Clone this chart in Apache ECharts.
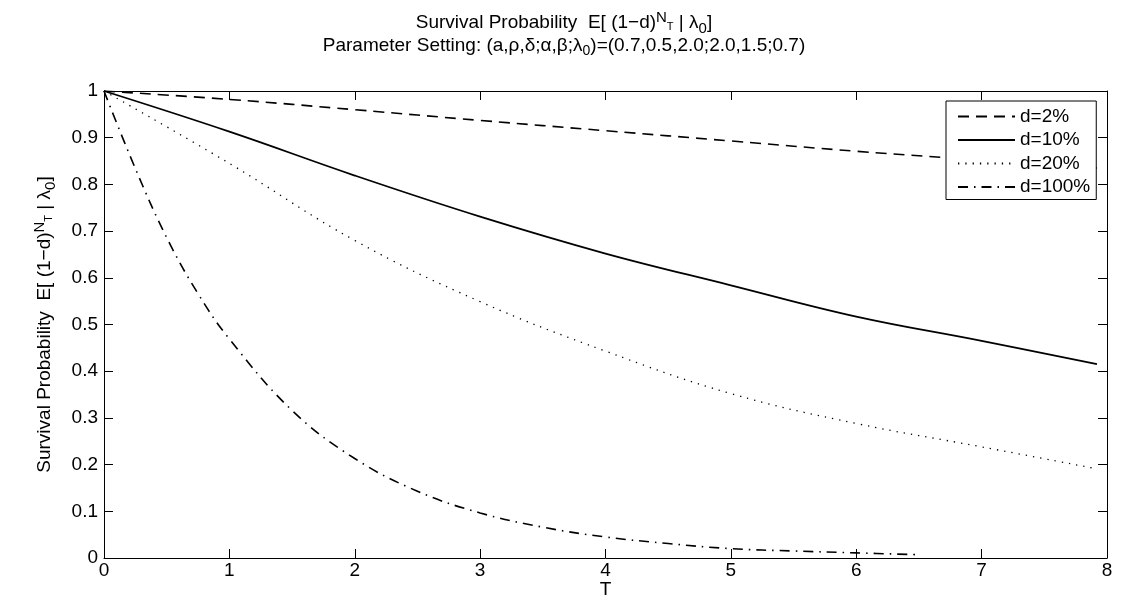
<!DOCTYPE html>
<html>
<head>
<meta charset="utf-8">
<script src="https://cdn.jsdelivr.net/npm/echarts@6/dist/echarts.min.js"></script>
<style>html,body{margin:0;padding:0;background:#fff}#c{width:1128px;height:599px}</style>
</head>
<body>
<div id="c"></div>
<script>
// ---- data ----
var seriesNames = ['d=2%', 'd=10%', 'd=20%', 'd=100%'];
var tMain = [0, 1, 2, 3, 4, 5, 6, 7, 7.92];
var d2 = [1, 0.982, 0.960, 0.937, 0.915, 0.893, 0.871, 0.852, 0.835];
var d10 = [1, 0.913, 0.819, 0.731, 0.652, 0.584, 0.517, 0.465, 0.415];
var d20 = [1, 0.845, 0.680, 0.549, 0.443, 0.352, 0.288, 0.238, 0.191];
var tFull = [0, 0.25, 0.5, 0.75, 1, 1.5, 2, 2.5, 3, 3.5, 4, 4.5, 5, 5.5, 6, 6.5];
var d100 = [1, 0.834, 0.686, 0.566, 0.469, 0.316, 0.213, 0.143, 0.0965, 0.066, 0.045, 0.031, 0.020, 0.015, 0.011, 0.007];
var xTicks = [0, 1, 2, 3, 4, 5, 6, 7, 8];
var yTicks = [0, 0.1, 0.2, 0.3, 0.4, 0.5, 0.6, 0.7, 0.8, 0.9, 1];

function pairs(xs, ys) { return xs.map(function (x, i) { return [x, ys[i]]; }); }

var FONT = 'Liberation Sans';
var FS = 19;
var chart = echarts.init(document.getElementById('c'), null, { renderer: 'canvas' });

var richMath = {
  sup: { fontSize: 15, verticalAlign: 'top', fontFamily: FONT, color: '#000' },
  ss: { fontSize: 11, verticalAlign: 'top', padding: [11, 0, 0, 0], fontFamily: FONT, color: '#000' },
  sub: { fontSize: 15, verticalAlign: 'bottom', fontFamily: FONT, color: '#000' }
};

function axisCommon(extra) {
  var a = {
    type: 'value', min: 0,
    axisLine: { show: true, onZero: false, lineStyle: { color: '#000', width: 1 } },
    axisTick: { show: true, inside: true, length: 9, lineStyle: { color: '#000', width: 1 } },
    splitLine: { show: false },
    axisLabel: { color: '#000', fontFamily: FONT, fontSize: FS }
  };
  for (var k in extra) a[k] = extra[k];
  return a;
}

var lineStyles = [
  { color: '#000', width: 1.6, type: [11, 7] },
  { color: '#000', width: 1.8, type: 'solid' },
  { color: '#000', width: 1.3, type: [1.3, 6] },
  { color: '#000', width: 1.6, type: [10, 6, 1.5, 6] }
];
var dataSets = [pairs(tMain, d2), pairs(tMain, d10), pairs(tMain, d20), pairs(tFull, d100)];

var option = {
  backgroundColor: '#fff',
  animation: false,
  title: [
    {
      text: 'Survival Probability  E[ (1\u2212d){sup|N}{ss|T} | \u03bb{sub|0}]',
      left: 'center', top: 5,
      textStyle: { fontFamily: FONT, fontSize: FS, fontWeight: 'normal', color: '#000', lineHeight: 26, rich: richMath }
    },
    {
      text: 'Parameter Setting: (a,\u03c1,\u03b4;\u03b1,\u03b2;\u03bb{sub|0})=(0.7,0.5,2.0;2.0,1.5;0.7)',
      left: 'center', top: 29,
      textStyle: { fontFamily: FONT, fontSize: FS, fontWeight: 'normal', color: '#000', lineHeight: 24,
        rich: { sub: { fontSize: 14, verticalAlign: 'bottom', fontFamily: FONT, color: '#000' } } }
    }
  ],
  grid: { left: 104, right: 21, top: 91, bottom: 41, containLabel: false, outerBoundsMode: 'none' },
  legend: {
    orient: 'vertical', left: 946, top: 101,
    data: seriesNames,
    backgroundColor: '#fff', borderColor: '#000', borderWidth: 1, borderRadius: 0,
    padding: [6, 6, 3, 11], itemGap: 4.5, itemWidth: 57, itemHeight: 16,
    itemStyle: { opacity: 0 },
    textStyle: { fontFamily: FONT, fontSize: FS, color: '#000' },
    selectedMode: false
  },
  xAxis: [
    axisCommon({ max: 8, interval: 1, position: 'bottom',
      name: 'T', nameLocation: 'middle', nameGap: 22, nameMoveOverlap: false,
      nameTextStyle: { fontFamily: FONT, fontSize: FS, color: '#000' },
      axisLabel: { color: '#000', fontFamily: FONT, fontSize: FS, margin: 3,
        formatter: function (v) { return xTicks.indexOf(v) >= 0 ? String(v) : ''; } } }),
    axisCommon({ max: 8, interval: 1, position: 'top', axisLabel: { show: false } })
  ],
  yAxis: [
    axisCommon({ max: 1, interval: 0.1, position: 'left',
      name: 'Survival Probability  E[ (1\u2212d){sup|N}{ss|T} | \u03bb{sub|0}]',
      nameLocation: 'middle', nameGap: 46, nameRotate: 90, nameMoveOverlap: false,
      nameTextStyle: { fontFamily: FONT, fontSize: FS, color: '#000', lineHeight: 26, rich: richMath },
      axisLabel: { color: '#000', fontFamily: FONT, fontSize: FS, margin: 6,
        formatter: function (v) {
          var r = Math.round(v * 10) / 10;
          return yTicks.indexOf(r) >= 0 ? String(r) : '';
        } } }),
    axisCommon({ max: 1, interval: 0.1, position: 'right', axisLabel: { show: false } })
  ],
  series: seriesNames.map(function (n, i) {
    return {
      name: n, type: 'line', xAxisIndex: 0, yAxisIndex: 0,
      data: dataSets[i], smooth: 0.4, symbol: 'none', showSymbol: false,
      lineStyle: lineStyles[i], itemStyle: { color: '#000' }, z: 2
    };
  })
};
chart.setOption(option);
</script>
</body>
</html>
